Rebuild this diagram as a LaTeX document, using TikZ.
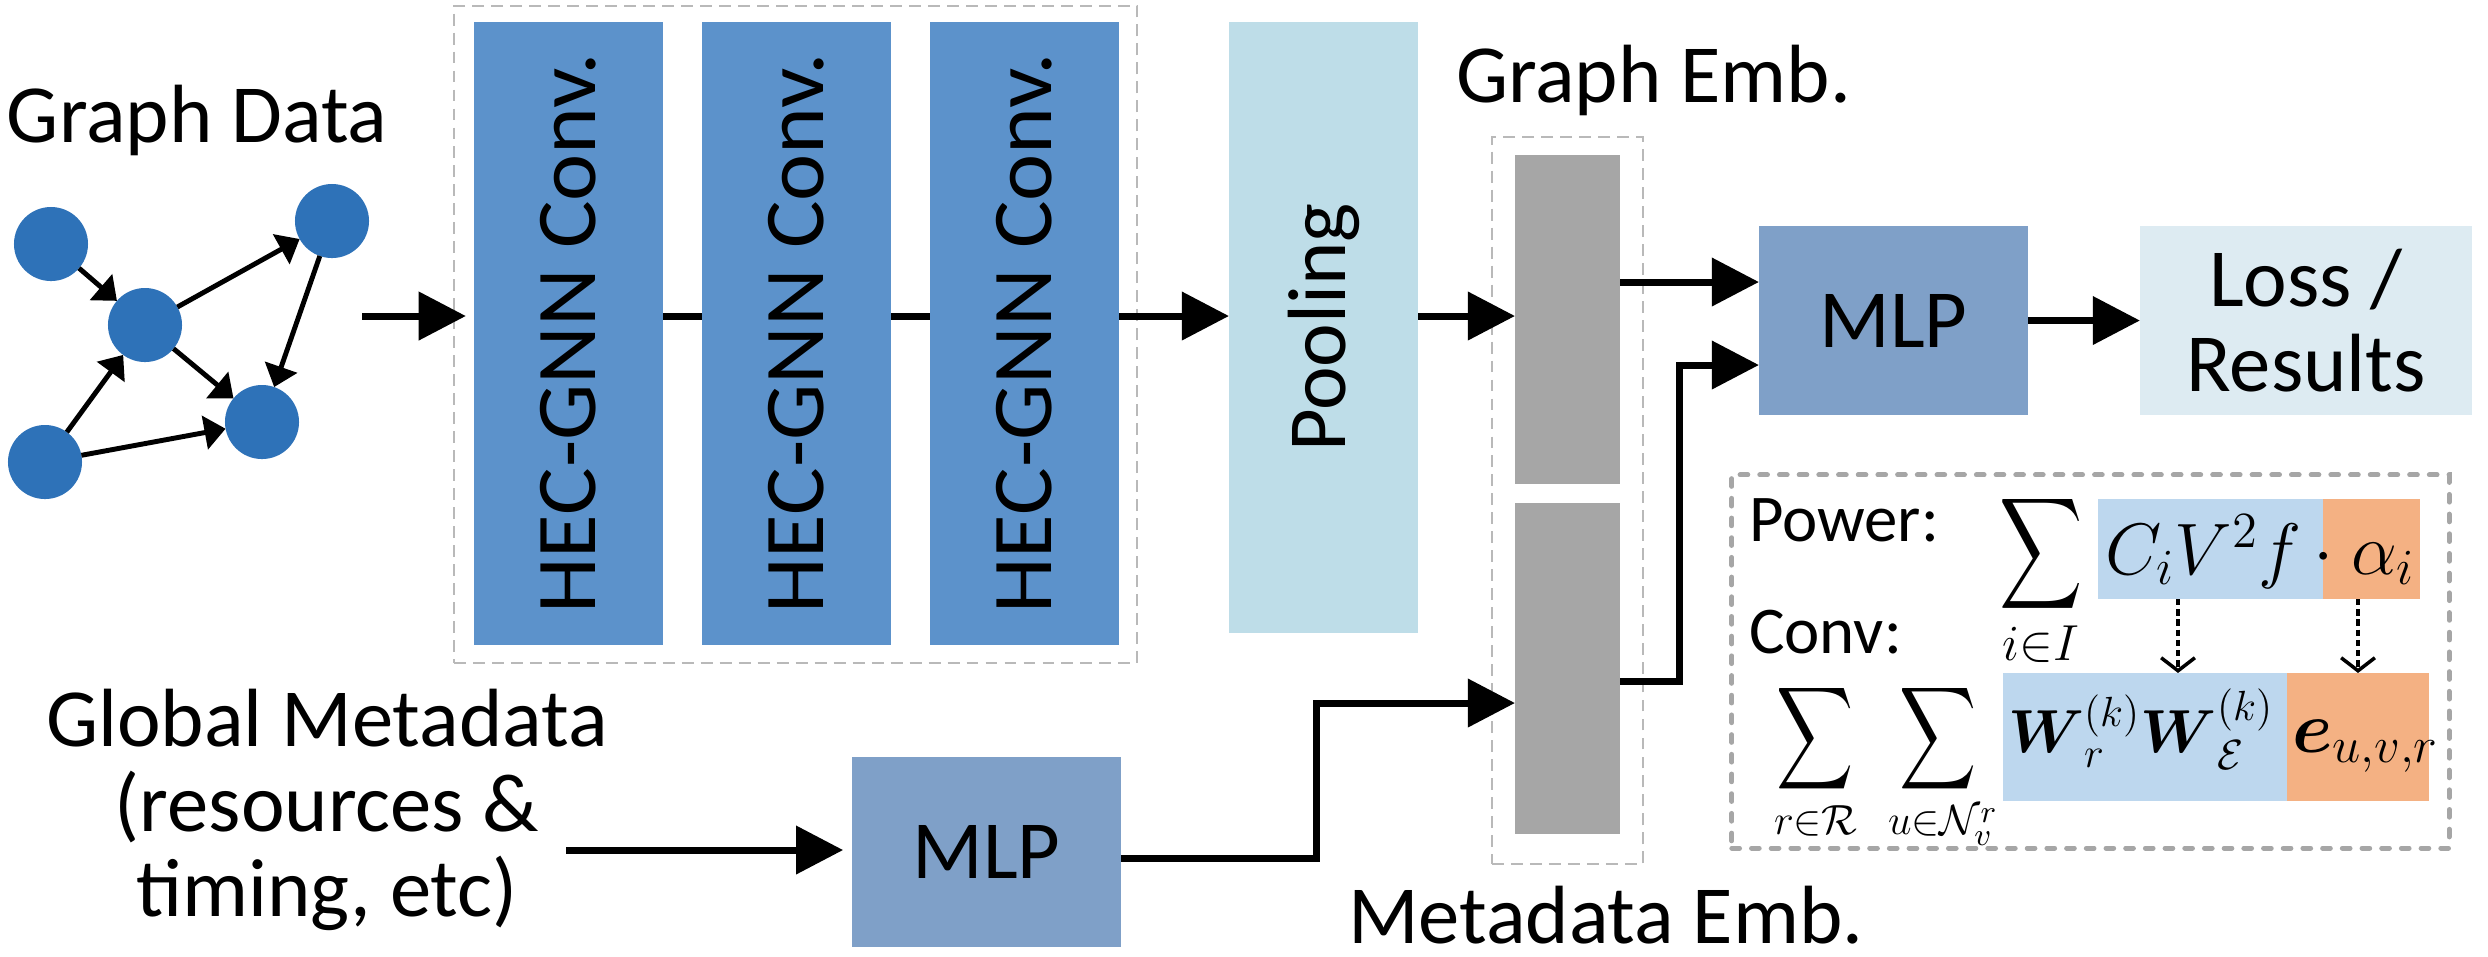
\documentclass[tikz,border=0pt]{standalone}
\usepackage{amsmath}
\usepackage{graphicx}
\usepackage[no-math]{fontspec}
\setmainfont{Carlito}
\usetikzlibrary{arrows.meta}
\definecolor{convblue}{RGB}{92,146,203}
\definecolor{poolblue}{RGB}{190,221,232}
\definecolor{mlpblue}{RGB}{127,160,200}
\definecolor{lossblue}{RGB}{221,235,242}
\definecolor{embgray}{RGB}{166,166,166}
\definecolor{nodeblue}{RGB}{46,114,184}
\definecolor{fblue}{RGB}{189,215,238}
\definecolor{forange}{RGB}{244,177,131}
\definecolor{thindash}{RGB}{185,185,185}
\definecolor{thickdash}{RGB}{166,166,166}
\newcommand{\convlabel}{\scalebox{1.08}[1.03]{HEC-GNN Conv.}}
\newcommand{\psum}{\mathop{\scalebox{0.95}[1.28]{$\displaystyle\sum$}}\limits}
\newcommand{\csum}{\mathop{\scalebox{0.88}[1.18]{$\displaystyle\sum$}}\limits}
\begin{document}
\begin{tikzpicture}[x=0.01cm,y=-0.01cm,
 every node/.style={inner sep=0pt,outer sep=0pt},
 big/.style={font=\fontsize{23.5}{24.2}\selectfont},
 small/.style={font=\fontsize{19}{22}\selectfont},
 mth/.style={font=\fontsize{19.4}{22}\selectfont},
 wmth/.style={font=\fontsize{18.6}{22}\selectfont},
 smth/.style={font=\fontsize{19}{22}\selectfont},
 cmth/.style={font=\fontsize{18}{21}\selectfont},
 gnode/.style={circle,fill=nodeblue,minimum size=0.74cm},
 gedge/.style={line width=1.4pt,-{Triangle[length=6pt,width=9.5pt]}},
 conn/.style={line width=2pt},
 arr/.style={line width=2pt,-{Triangle[length=13.4pt,width=13.4pt]}},
 tdbox/.style={draw=thindash,line width=0.6pt,dash pattern=on 3.4pt off 2pt},
 fdbox/.style={draw=thickdash,line width=1.4pt,line cap=round,dash pattern=on 2.2pt off 3.4pt},
 darr/.style={line width=1pt,dash pattern=on 1.8pt off 1.1pt,-{Straight Barb[length=3.7pt,width=9.6pt]}},
 blk/.style={rectangle}
]
\useasboundingbox (0,0) rectangle (2488,956);

% ---------- graph data ----------
\node[gnode] (n1) at (51,244) {};
\node[gnode] (n2) at (145,325) {};
\node[gnode] (n3) at (332,221) {};
\node[gnode] (n4) at (262,422) {};
\node[gnode] (n5) at (45,462) {};
\draw[gedge] (n1) -- (n2);
\draw[gedge] (n2) -- (n3);
\draw[gedge] (n3) -- (n4);
\draw[gedge] (n2) -- (n4);
\draw[gedge] (n5) -- (n2);
\draw[gedge] (n5) -- (n4);
\node[big,anchor=base west] (gd) at (7,142) {Graph Data};

% ---------- conv stack ----------
\node[tdbox,minimum width=6.83cm,minimum height=6.57cm] (convframe) at (795.5,334.5) {};
\node[blk,fill=convblue,minimum width=1.89cm,minimum height=6.23cm] (c1) at (568.5,333.5) {};
\node[blk,fill=convblue,minimum width=1.89cm,minimum height=6.23cm] (c2) at (796.5,333.5) {};
\node[blk,fill=convblue,minimum width=1.89cm,minimum height=6.23cm] (c3) at (1024.5,333.5) {};
\node[big,rotate=90] (c1t) at (c1) {\convlabel};
\node[big,rotate=90] (c2t) at (c2) {\convlabel};
\node[big,rotate=90] (c3t) at (c3) {\convlabel};

% ---------- pooling ----------
\node[blk,fill=poolblue,minimum width=1.89cm,minimum height=6.11cm] (pool) at (1323.5,327.5) {};
\node[big,rotate=90] (poolt) at (pool) {Pooling};

% ---------- embeddings ----------
\node[big,anchor=base west] (ge) at (1456,102) {Graph Emb.};
\node[tdbox,minimum width=1.51cm,minimum height=7.27cm] (embframe) at (1567.5,500.5) {};
\node[blk,fill=embgray,minimum width=1.05cm,minimum height=3.29cm] (eb1) at (1567.5,319.5) {};
\node[blk,fill=embgray,minimum width=1.05cm,minimum height=3.31cm] (eb2) at (1567.5,668.5) {};
\node[big,anchor=base west] (me) at (1348,943) {Metadata Emb.};

% ---------- heads ----------
\node[blk,fill=mlpblue,big,minimum width=2.69cm,minimum height=1.89cm] (mlp1) at (1893.5,320.5) {MLP};
\node[blk,fill=lossblue,big,align=center,minimum width=3.32cm,minimum height=1.89cm] (loss) at (2306,320.5) {Loss /\\Results};
\node[blk,fill=mlpblue,big,minimum width=2.69cm,minimum height=1.90cm] (mlp2) at (986.5,852) {MLP};
\node[big,align=center] (gm) at (327,810) {Global Metadata\\(resources \&\\timing, etc)};

% ---------- connectors ----------
\coordinate (ya) at (0,316);
\coordinate (gstart) at (362,316);
\draw[arr,shorten >=2.3pt] (gstart) -- (c1.west |- ya);
\draw[conn] (c1.east |- ya) -- (c2.west |- ya);
\draw[conn] (c2.east |- ya) -- (c3.west |- ya);
\draw[arr] (c3.east |- ya) -- (pool.west |- ya);
\draw[arr] (pool.east |- ya) -- (eb1.west |- ya);

\coordinate (yb) at (0,282);
\draw[arr] (eb1.east |- yb) -- (mlp1.west |- yb);
\coordinate (yc) at (0,681);
\coordinate (xc) at (1679,0);
\coordinate (yd) at (0,365);
\draw[arr] (eb2.east |- yc) -| (xc |- yd) -- (mlp1.west |- yd);
\draw[arr] (mlp1) -- (loss);

\coordinate (ye) at (0,850);
\coordinate (gmstart) at (566,850);
\draw[arr,shorten >=2.5pt] (gmstart) -- (mlp2.west |- ye);
\coordinate (yf) at (0,858);
\coordinate (xf) at (1316,0);
\coordinate (yg) at (0,703);
\draw[arr] (mlp2.east |- yf) -| (xf |- yg) -- (eb2.west |- yg);

% ---------- formula box ----------
\node[fdbox,minimum width=7.17cm,minimum height=3.73cm] (fbox) at (2090.5,661.5) {};
\node[blk,fill=fblue,minimum width=2.25cm,minimum height=1.00cm] (tb) at (2210.5,549) {};
\node[blk,fill=forange,minimum width=0.97cm,minimum height=1.00cm] (to) at (2371.5,549) {};
\node[blk,fill=fblue,minimum width=2.84cm,minimum height=1.28cm] (bb) at (2145,737) {};
\node[blk,fill=forange,minimum width=1.42cm,minimum height=1.28cm] (bo) at (2358,737) {};

\node[small,anchor=base west] (pw) at (1749,541) {Power:};
\node[small,anchor=base west] (cv) at (1749,653) {Conv:};

\node[smth] (s1) at (2041,580) {$\displaystyle\psum_{i\in I}$};
\node[mth,anchor=base west] (t1) at (2105,574) {$C_iV^2f$};
\node[mth,anchor=base] (t2) at (2324,574) {$\cdot$};
\node[mth,anchor=base west] (t3) at (2351,574) {$\alpha_i$};

\node[cmth] (s2) at (1886,766) {$\displaystyle\csum_{r\in\mathcal{R}}\mkern6mu\csum_{u\in\mathcal{N}_v^r}$};
\node[wmth,anchor=base west] (b1) at (2008,752) {$\boldsymbol{W}_r^{(k)}\boldsymbol{W}_{\mathcal{E}}^{(k)}$};
\node[mth,anchor=base west] (b2) at (2292,752) {$\boldsymbol{e}_{u,v,r}$};

\coordinate (xa) at (2178,0);
\coordinate (xb) at (2358,0);
\draw[darr] (tb.south -| xa) -- (bb.north -| xa);
\draw[darr] (to.south -| xb) -- (bo.north -| xb);
\end{tikzpicture}
\end{document}
